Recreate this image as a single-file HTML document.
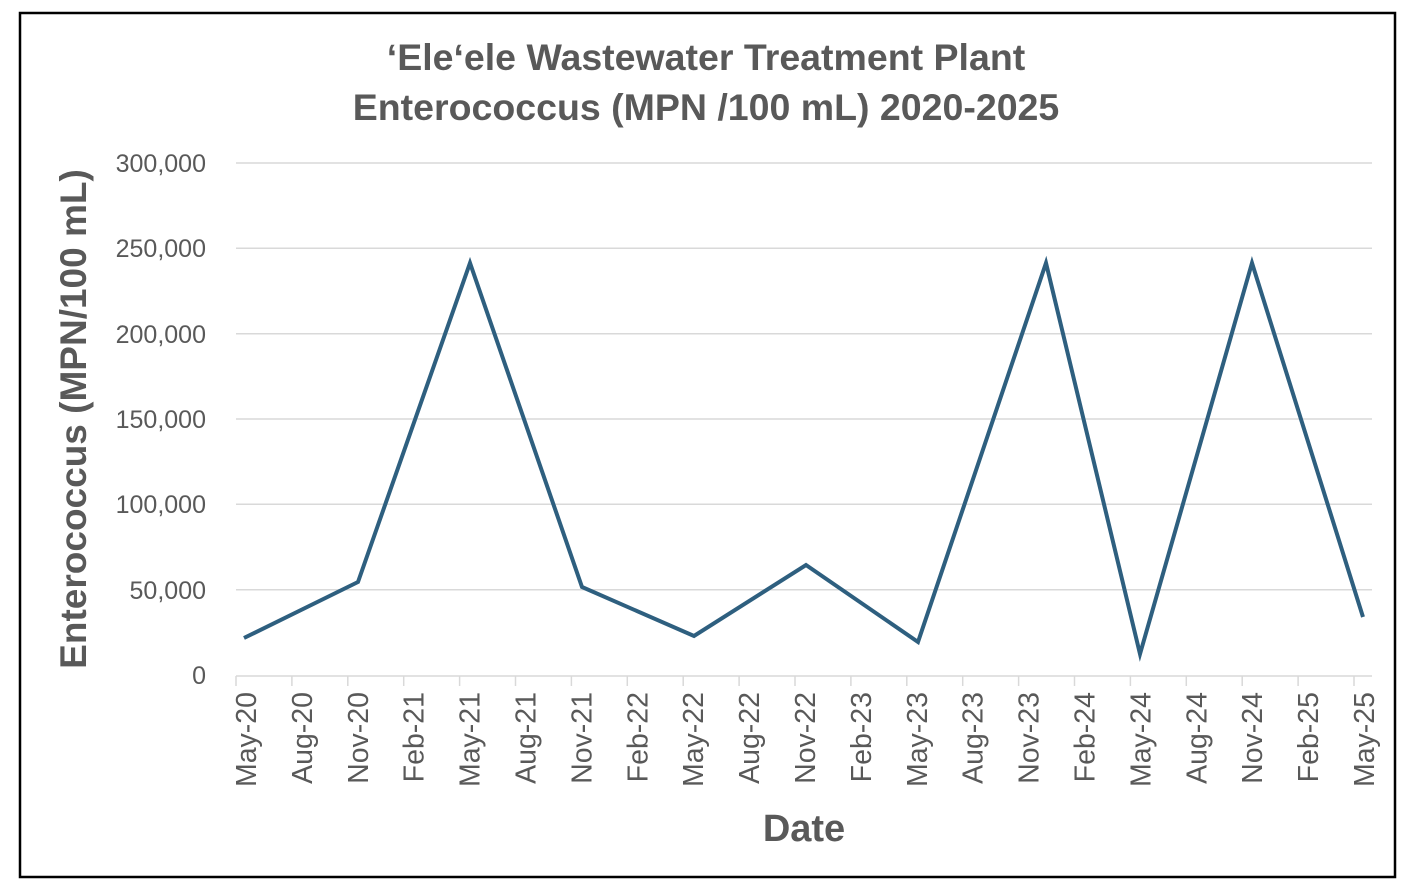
<!DOCTYPE html>
<html><head><meta charset="utf-8"><style>
html,body{margin:0;padding:0;background:#fff;width:1408px;height:892px;overflow:hidden}
svg text{font-family:"Liberation Sans",sans-serif;fill:#595959}
</style></head><body>
<svg width="1408" height="892" xmlns="http://www.w3.org/2000/svg">
<rect x="20" y="13" width="1375" height="864" fill="#fff" stroke="#000" stroke-width="2.5"/>
<text x="706" y="70" font-size="37.5" font-weight="bold" text-anchor="middle">‘Ele‘ele Wastewater Treatment Plant</text>
<text x="706" y="120" font-size="37.5" font-weight="bold" text-anchor="middle">Enterococcus (MPN /100 mL) 2020-2025</text>
<g stroke="#d9d9d9" stroke-width="1.5">
<line x1="236" x2="1372" y1="163" y2="163"/><line x1="236" x2="1372" y1="248.3" y2="248.3"/>
<line x1="236" x2="1372" y1="333.7" y2="333.7"/><line x1="236" x2="1372" y1="419" y2="419"/>
<line x1="236" x2="1372" y1="504.3" y2="504.3"/><line x1="236" x2="1372" y1="589.7" y2="589.7"/>
<line x1="236" x2="1372" y1="676" y2="676"/>
</g>
<g stroke="#d9d9d9" stroke-width="1.5" id="ticks"></g>
<g font-size="25" text-anchor="end">
<text x="206" y="172">300,000</text><text x="206" y="257">250,000</text><text x="206" y="343">200,000</text>
<text x="206" y="428">150,000</text><text x="206" y="513">100,000</text><text x="206" y="599">50,000</text>
<text x="206" y="684">0</text>
</g>
<text transform="translate(86,419) rotate(-90)" font-size="37" font-weight="bold" text-anchor="middle">Enterococcus (MPN/100 mL)</text>
<g id="xl" font-size="28.5" text-anchor="end"></g>
<text x="804" y="841" font-size="38" font-weight="bold" text-anchor="middle">Date</text>
<polyline fill="none" stroke="#2e5f7f" stroke-width="4" stroke-linejoin="miter"
points="244,638 358,582 470,263 582,587 694,636 806,565 918,642 1046,263 1140,654 1252,263 1363,617"/>
<script>
var labels=["May-20","Aug-20","Nov-20","Feb-21","May-21","Aug-21","Nov-21","Feb-22","May-22","Aug-22","Nov-22","Feb-23","May-23","Aug-23","Nov-23","Feb-24","May-24","Aug-24","Nov-24","Feb-25","May-25"];
var ns="http://www.w3.org/2000/svg",t=document.getElementById("ticks"),xl=document.getElementById("xl");
for(var i=0;i<21;i++){var x=236+i*55.9;
var l=document.createElementNS(ns,"line");l.setAttribute("x1",x);l.setAttribute("x2",x);l.setAttribute("y1",676);l.setAttribute("y2",686);t.appendChild(l);
var tx=document.createElementNS(ns,"text");tx.setAttribute("transform","translate("+(x+20)+",692) rotate(-90)");tx.textContent=labels[i];xl.appendChild(tx);}
</script>
</svg>
</body></html>
